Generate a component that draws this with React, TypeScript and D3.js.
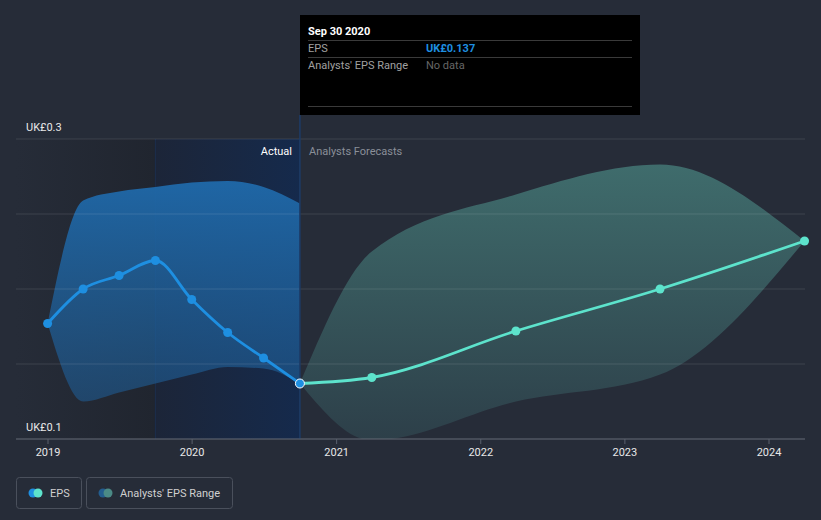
import React from "react";
import * as d3 from "d3";

const actualDates = ["2018-12-31", "2019-03-31", "2019-06-30", "2019-09-30", "2019-12-31", "2020-03-31", "2020-06-30", "2020-09-30"];
const actualEps = [0.177, 0.2, 0.209, 0.219, 0.193, 0.171, 0.154, 0.137];
const actualLow = [0.177, 0.125, 0.131, 0.137, 0.143, 0.148, 0.147, 0.137];
const actualHigh = [0.177, 0.259, 0.265, 0.268, 0.271, 0.272, 0.268, 0.257];

const forecastDates = ["2020-09-30", "2021-03-31", "2022-03-31", "2023-03-31", "2024-03-31"];
const forecastEps = [0.137, 0.141, 0.172, 0.2, 0.232];
const forecastLow = [0.137, 0.099, 0.125, 0.143, 0.232];
const forecastHigh = [0.137, 0.225, 0.263, 0.283, 0.232];

const yearTicks = ["2019", "2020", "2021", "2022", "2023", "2024"];
const yTickValues = [0.1, 0.15, 0.2, 0.25, 0.3];

const W = 821, H = 520;
const BG = "#262c38";

export default function App() {
  const x = d3.scaleTime()
    .domain([new Date("2019-01-01"), new Date("2024-01-01")])
    .range([48, 769]);
  const y = d3.scaleLinear().domain([0.1, 0.3]).range([439, 139]);

  const act = actualDates.map((d, i) => ({ x: x(new Date(d)), eps: actualEps[i], lo: actualLow[i], hi: actualHigh[i] }));
  const fc = forecastDates.map((d, i) => ({ x: x(new Date(d)), eps: forecastEps[i], lo: forecastLow[i], hi: forecastHigh[i] }));

  const curve = d3.curveMonotoneX;
  const area = d3.area<any>().x(d => d.x).y0(d => y(d.lo)).y1(d => y(d.hi)).curve(curve);
  const line = d3.line<any>().x(d => d.x).y(d => y(d.eps)).curve(curve);

  const splitX = x(new Date("2020-09-30"));
  const shadeX = x(new Date("2019-09-30"));
  const left = 16, right = 805;

  return (
    <svg width={W} height={H} style={{ position: "absolute", left: 0, top: 0, background: BG, fontFamily: "Roboto, sans-serif" }}>
      <defs>
        <linearGradient id="darkG" x1="0" x2="1" y1="0" y2="0">
          <stop offset="0" stopColor="#262c38" />
          <stop offset="1" stopColor="#20252f" />
        </linearGradient>
        <linearGradient id="blueG" x1="0" x2="1" y1="0" y2="0">
          <stop offset="0" stopColor="#1c2538" />
          <stop offset="1" stopColor="#152a4c" />
        </linearGradient>
        <linearGradient id="bandBlue" x1="0" x2="0" y1="0" y2="1">
          <stop offset="0" stopColor="#1f68a8" stopOpacity="0.97" />
          <stop offset="1" stopColor="#1f5a90" stopOpacity="0.6" />
        </linearGradient>
        <linearGradient id="bandGreen" x1="0" x2="0" y1="0" y2="1">
          <stop offset="0" stopColor="#3f6c6c" />
          <stop offset="1" stopColor="#2d3f49" />
        </linearGradient>
        <clipPath id="clipAct">
          <rect x={0} y={0} width={splitX} height={439} />
        </clipPath>
        <clipPath id="clipPlot">
          <rect x={0} y={0} width={right} height={439} />
        </clipPath>
      </defs>

      <rect x={left} y={139} width={shadeX - left} height={300} fill="url(#darkG)" />
      <rect x={shadeX} y={139} width={splitX - shadeX} height={300} fill="url(#blueG)" />
      <line x1={shadeX} x2={shadeX} y1={139} y2={439} stroke="#1b2d4d" strokeWidth={1} />

      <path d={area(act) || ""} fill="url(#bandBlue)" clipPath="url(#clipAct)" />
      <path d={area(fc) || ""} fill="url(#bandGreen)" clipPath="url(#clipPlot)" />

      {yTickValues.map(v => (
        <line key={v} x1={left} x2={right} y1={y(v)} y2={y(v)} stroke="#ffffff" strokeOpacity={0.11} strokeWidth={1} />
      ))}

      <line x1={splitX} x2={splitX} y1={115} y2={439} stroke="#1d3b66" strokeWidth={1.5} />

      <path d={line(act) || ""} fill="none" stroke="#1e8fe1" strokeWidth={2.8} />
      <path d={line(fc) || ""} fill="none" stroke="#5de3cc" strokeWidth={2.8} />
      {act.slice(0, -1).map((d, i) => (
        <circle key={i} cx={d.x} cy={y(d.eps)} r={4.5} fill="#1e8fe1" />
      ))}
      {fc.slice(1).map((d, i) => (
        <circle key={i} cx={d.x} cy={y(d.eps)} r={4.5} fill="#5de3cc" />
      ))}
      <circle cx={splitX} cy={y(0.137)} r={4.5} fill="#1e8fe1" stroke="#ffffff" strokeWidth={1} />

      <line x1={left} x2={right} y1={439} y2={439} stroke="#5a616d" strokeWidth={1} />
      {yearTicks.map(t => {
        const xx = x(new Date(`${t}-01-01`));
        return (
          <g key={t}>
            <line x1={xx} x2={xx} y1={439} y2={444} stroke="#5a616d" />
            <text x={xx} y={456} textAnchor="middle" fill="#e8e8e8" fontSize={11}>{t}</text>
          </g>
        );
      })}

      <text x={26} y={131} fill="#e8e8e8" fontSize={11}>UK£0.3</text>
      <text x={26} y={431} fill="#e8e8e8" fontSize={11}>UK£0.1</text>
      <text x={292} y={155} textAnchor="end" fill="#ffffff" fontSize={11}>Actual</text>
      <text x={309} y={155} fill="#8a8f98" fontSize={11}>Analysts Forecasts</text>

      <rect x={300} y={15} width={340} height={100} fill="#000000" />
      <text x={308} y={35} fill="#ffffff" fontSize={11} fontWeight="bold">Sep 30 2020</text>
      <line x1={308} x2={632} y1={40.5} y2={40.5} stroke="#3a3a3a" />
      <text x={308} y={52} fill="#a0a0a0" fontSize={11}>EPS</text>
      <text x={426} y={52} fill="#1e8fe1" fontSize={11} fontWeight="bold">UK£0.137</text>
      <line x1={308} x2={632} y1={57.5} y2={57.5} stroke="#3a3a3a" />
      <text x={308} y={69} fill="#a0a0a0" fontSize={11}>Analysts' EPS Range</text>
      <text x={426} y={69} fill="#666666" fontSize={11}>No data</text>
      <line x1={308} x2={632} y1={106.5} y2={106.5} stroke="#3a3a3a" />

      <rect x={16.5} y={477.5} width={65} height={31} rx={3} fill="none" stroke="#4a505c" />
      <circle cx={33} cy={493} r={4.5} fill="#1e8fe1" />
      <circle cx={38} cy={493} r={4.5} fill="#5de3cc" />
      <text x={50} y={497} fill="#d0d0d0" fontSize={11}>EPS</text>

      <rect x={86.5} y={477.5} width={146} height={31} rx={3} fill="none" stroke="#4a505c" />
      <circle cx={103} cy={493} r={4.5} fill="#235d8f" />
      <circle cx={108} cy={493} r={4.5} fill="#4b8a86" />
      <text x={120} y={497} fill="#d0d0d0" fontSize={11}>Analysts' EPS Range</text>
    </svg>
  );
}
